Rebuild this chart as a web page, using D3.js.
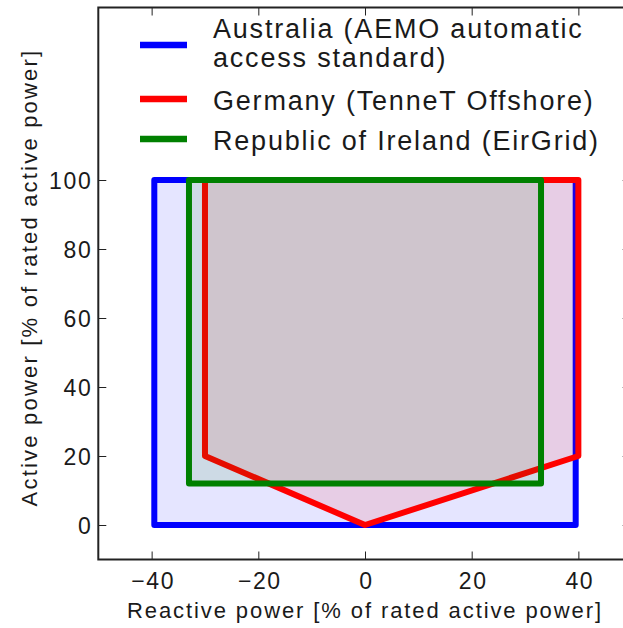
<!DOCTYPE html>
<html>
<head>
<meta charset="utf-8">
<script src="https://cdn.jsdelivr.net/npm/d3@7.9.0/dist/d3.min.js"></script>
<style>
  html, body { margin: 0; padding: 0; background: #fff; }
  svg text { font-family: "Liberation Sans", Arial, sans-serif; fill: #1a1a1a; }
</style>
</head>
<body>
<svg id="chart" width="623" height="628"></svg>
<script>
// capability curves, Q in % (x) and P in % (y)
const seriesNames = ['Australia (AEMO automatic|access standard)', 'Germany (TenneT Offshore)', 'Republic of Ireland (EirGrid)'];
const seriesColors = ['#0000ff', '#ff0000', '#008000'];
const australiaQ = [-39.5, -39.5, 39.5, 39.5];
const australiaP = [0, 100, 100, 0];
const germanyQ = [-30, -30, 40, 40, 0];
const germanyP = [20, 100, 100, 20, 0];
const irelandQ = [-33, -33, 33, 33];
const irelandP = [12, 100, 100, 12];
const xTicks = [-40, -20, 0, 20, 40];
const yTicks = [0, 20, 40, 60, 80, 100];

const svg = d3.select('#chart');
const plotLeft = 98.3, plotRight = 631.7, plotTop = 7.5, plotBottom = 559.5;

let x = d3.scaleLinear().domain([-50, 50]).range([plotLeft, plotRight]);
let y = d3.scaleLinear().domain([-10, 150]).range([plotBottom, plotTop]);

let shapes = [
  { q: australiaQ, p: australiaP },
  { q: germanyQ, p: germanyP },
  { q: irelandQ, p: irelandP },
];

let line = d3.line().x((d) => x(d[0])).y((d) => y(d[1])).curve(d3.curveLinearClosed);

shapes.forEach((s, i) => {
  let pts = s.q.map((q, j) => [q, s.p[j]]);
  svg.append('path')
    .attr('d', line(pts))
    .attr('fill', seriesColors[i])
    .attr('fill-opacity', 0.1)
    .attr('stroke', seriesColors[i])
    .attr('stroke-width', 6)
    .attr('stroke-linejoin', 'round');
});

// axes, ticks pointing inward
function styleAxis(g) {
  g.select('.domain').remove();
  g.selectAll('.tick line').attr('stroke', '#222').attr('stroke-width', 1);
  g.selectAll('.tick text')
    .style('font-size', '23px')
    .style('letter-spacing', '1.6px')
    .attr('fill', '#1a1a1a');
}

svg.append('g')
  .attr('transform', `translate(0,${plotBottom})`)
  .call(d3.axisBottom(x).tickValues(xTicks).tickSizeInner(-8).tickSizeOuter(0))
  .call(styleAxis)
  .call((g) => g.selectAll('.tick text').attr('y', 29).attr('dy', 0).attr('dx', '1px'));

svg.append('g')
  .attr('transform', `translate(0,${plotTop})`)
  .call(d3.axisTop(x).tickValues(xTicks).tickSizeInner(-8).tickSizeOuter(0).tickFormat(''))
  .call(styleAxis);

svg.append('g')
  .attr('transform', `translate(${plotLeft},0)`)
  .call(d3.axisLeft(y).tickValues(yTicks).tickSizeInner(-8).tickSizeOuter(0))
  .call(styleAxis)
  .call((g) => g.selectAll('.tick text').attr('x', -6).attr('dy', '0.36em'));

svg.append('g')
  .attr('transform', `translate(${plotRight},0)`)
  .call(d3.axisRight(y).tickValues(yTicks).tickSizeInner(-9).tickSizeOuter(0).tickFormat(''))
  .call(styleAxis);

svg.append('rect')
  .attr('x', plotLeft).attr('y', plotTop)
  .attr('width', plotRight - plotLeft).attr('height', plotBottom - plotTop)
  .attr('fill', 'none')
  .attr('stroke', '#222')
  .attr('stroke-width', 2);

// axis titles
svg.append('text')
  .attr('x', 365)
  .attr('y', 618)
  .attr('text-anchor', 'middle')
  .style('font-size', '22px')
  .style('letter-spacing', '1.9px')
  .text('Reactive power [% of rated active power]');

svg.append('text')
  .attr('transform', `translate(37,${(plotTop + plotBottom) / 2 - 6}) rotate(-90)`)
  .attr('text-anchor', 'middle')
  .style('font-size', '22px')
  .style('letter-spacing', '2.2px')
  .text('Active power [% of rated active power]');

// legend
let legendY = [45, 99, 139];
let textY = [38, 110, 150];
let legend = svg.append('g');
seriesNames.forEach((name, i) => {
  legend.append('line')
    .attr('x1', 140).attr('x2', 187)
    .attr('y1', legendY[i]).attr('y2', legendY[i])
    .attr('stroke', seriesColors[i])
    .attr('stroke-width', 6.5);
  name.split('|').forEach((part, k) => {
    legend.append('text')
      .attr('x', 213)
      .attr('y', textY[i] + k * 29)
      .style('font-size', '27px')
      .style('letter-spacing', '1.8px')
      .text(part);
  });
});
</script>
</body>
</html>
